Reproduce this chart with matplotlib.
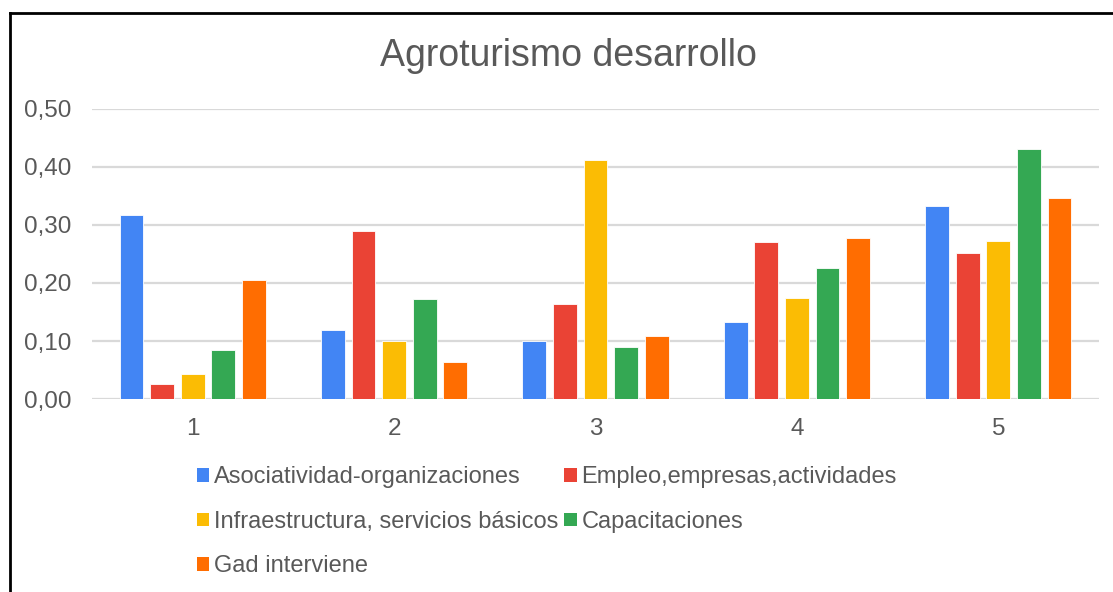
import matplotlib
matplotlib.use("Agg")
import matplotlib.pyplot as plt
from matplotlib.patches import Patch
from matplotlib.lines import Line2D
from matplotlib.ticker import FuncFormatter
import numpy as np

plt.rcParams["font.family"] = ["Liberation Sans", "DejaVu Sans"]

# data
categories = ["1", "2", "3", "4", "5"]
series_names = ["Asociatividad-organizaciones", "Empleo,empresas,actividades",
                "Infraestructura, servicios básicos", "Capacitaciones",
                "Gad interviene"]
asociatividad = [0.317, 0.119, 0.100, 0.132, 0.333]
empleo = [0.026, 0.290, 0.164, 0.270, 0.251]
infraestructura = [0.043, 0.100, 0.412, 0.175, 0.272]
capacitaciones = [0.084, 0.172, 0.090, 0.225, 0.431]
gad = [0.206, 0.063, 0.108, 0.278, 0.346]
colors = ["#4285F4", "#EA4335", "#FBBC04", "#34A853", "#FF6D01"]

series = [asociatividad, empleo, infraestructura, capacitaciones, gad]
txt = "#595959"

fig = plt.figure(figsize=(11.13, 5.92), dpi=100)
ax = fig.add_axes([0.0827, 0.326, 0.9047, 0.4899])

x = np.arange(len(categories))
step, width = 0.152, 0.118
for i, (vals, c) in enumerate(zip(series, colors)):
    ax.bar(x + (i - 2) * step, vals, width=width, color=c, zorder=3,
           edgecolor="white", linewidth=0.6)

ax.set_xlim(-0.5, len(categories) - 0.5)
ax.set_ylim(0, 0.5)
ax.set_yticks(np.arange(0, 0.51, 0.1))
ax.yaxis.set_major_formatter(FuncFormatter(lambda v, p: f"{v:.2f}".replace(".", ",")))
ax.set_xticks(x)
ax.set_xticklabels(categories)
ax.tick_params(axis="both", length=0, labelsize=17.5, colors=txt)
ax.tick_params(axis="y", pad=15)
ax.tick_params(axis="x", pad=14)
ax.grid(axis="y", color="#d9d9d9", linewidth=1.6, zorder=0)
for s in ax.spines.values():
    s.set_visible(False)

fig.text(0.511, 0.905, "Agroturismo desarrollo", ha="center", va="center",
         fontsize=27, color=txt)

handles = [Patch(facecolor=c, edgecolor="none") for c in colors]
order = [0, 2, 4, 1, 3]
fig.legend([handles[k] for k in order], [series_names[k] for k in order],
           ncol=2, loc="upper left", bbox_to_anchor=(0.1665, 0.232),
           frameon=False, fontsize=17.0, labelcolor=txt,
           handlelength=0.52, handleheight=0.52, handletextpad=0.2,
           columnspacing=0.25, labelspacing=0.95, borderpad=0)

# partial frame (left and top edges)
fig.add_artist(Line2D([0.009, 0.009], [0.0, 0.978], color="black", lw=2,
                      transform=fig.transFigure))
fig.add_artist(Line2D([0.009, 1.0], [0.978, 0.978], color="black", lw=2,
                      transform=fig.transFigure))

fig.savefig("out.png", dpi=100, facecolor="white")
